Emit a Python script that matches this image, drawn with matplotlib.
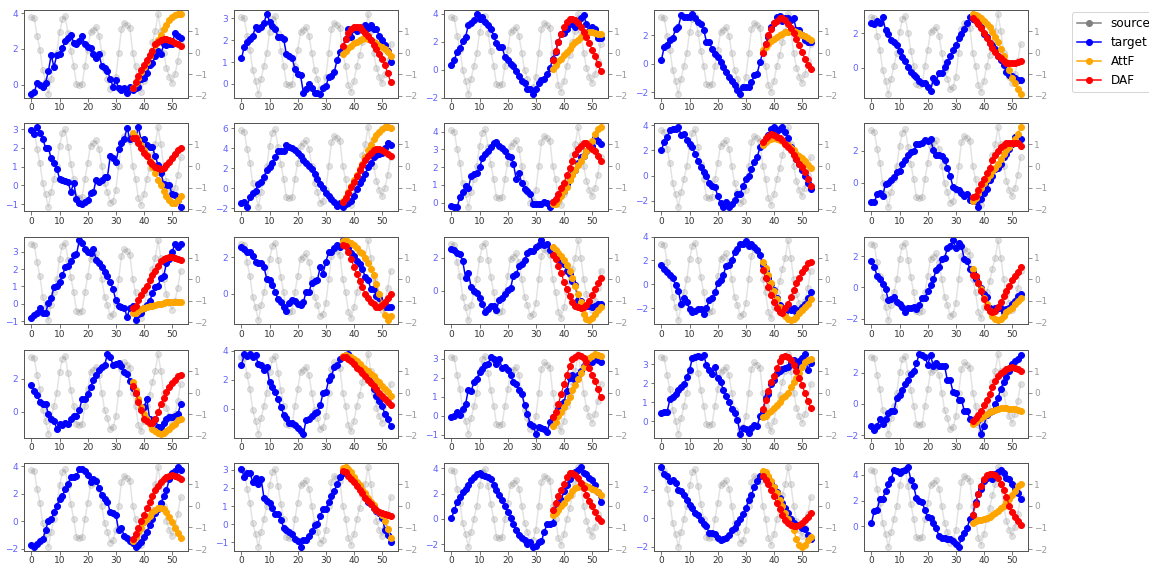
import numpy as np
import matplotlib
matplotlib.use("Agg")
import matplotlib.pyplot as plt
from matplotlib.lines import Line2D

# ---------------- data ----------------
source = [1.65,1.6,0.8,0.15,-0.8,-1.3,-1.9,-1.2,-0.6,0.0, 0.95,1.55,1.7,0.9,0.1,-0.6,-1.45,-1.5,-1.45,-0.6,
          0.15,0.95,1.05,1.2,0.8,0.0,-0.8,-1.2,-1.7,-1.6, -1.1,0.0,1.1,1.4,1.3,1.15,0.0,-0.6,-1.5,-1.8,
          -1.3,-0.6,-0.1,0.5,1.0,1.8,1.0,0.0,-0.7,-1.1, -1.4,-1.0,-0.4,0.4]

target_00 = [-0.5,-0.4,0.1,0.0,-0.1,0.1,0.75,1.65,1.0,1.65, 1.7,2.05,2.45,2.6,2.8,2.35,2.3,2.45,2.7,2.25,
             2.1,2.05,1.7,1.5,1.7,1.05,0.95,0.75,0.35,-0.1, 0.25,-0.2,-0.3,-0.2,-0.45,-0.1,-0.3,-0.2,-0.1,0.3,
             0.4,0.65,1.1,1.2,1.6,1.9,1.7,2.25,2.2,2.3, 2.25,2.9,2.7,2.6]
attf_00 = [-0.2,0.1,0.4,0.7,1.0,1.3,1.6,1.9,2.2,2.5,2.8,3.1,3.35,3.6,3.8,3.9,3.95,3.95]
daf_00 = [-0.2,0.15,0.5,0.8,1.1,1.4,1.65,1.9,2.3,2.4,2.5,2.55,2.55,2.5,2.45,2.35,2.25,2.15]

target_01 = [1.17,1.7,1.9,2.05,2.2,2.6,2.5,2.6,2.8,3.2, 2.85,2.65,2.5,2.15,2.15,2.05,1.35,1.3,1.17,0.7,
             0.45,0.4,-0.4,-0.25,0.0,-0.2,-0.4,-0.4,-0.45,-0.2, -0.1,0.3,0.35,0.55,1.1,1.45,1.6,2.05,2.5,2.15,
             2.5,2.4,2.5,2.5,2.7,2.55,2.7,2.5,2.5,2.2, 2.0,1.8,1.5,1.0]
attf_01 = [1.35,1.5,1.65,1.75,1.85,1.9,2.0,2.05,2.08,2.05,2.0,1.9,1.85,1.75,1.7,1.6,1.45,1.3]
daf_01 = [1.75,2.05,2.35,2.5,2.6,2.6,2.6,2.45,2.35,2.2,2.0,1.8,1.6,1.35,1.15,0.85,0.5,0.1]

target_02 = [0.35,0.7,1.3,1.55,2.05,2.35,3.2,3.35,3.6,4.0, 3.65,3.75,3.45,3.2,2.95,2.45,1.9,1.65,1.6,0.95,
             0.7,0.45,0.25,-0.1,-0.45,-0.8,-0.95,-1.35,-1.35,-1.7, -1.35,-0.95,-0.7,-0.65,-0.3,0.1,0.8,1.3,2.0,2.6,
             2.65,2.95,3.3,3.5,3.05,3.5,3.7,3.9,3.3,2.75, 3.1,2.9,2.25,2.3]
attf_02 = [0.05,0.35,0.6,0.8,1.05,1.3,1.5,1.75,2.0,2.15,2.35,2.5,2.65,2.7,2.7,2.65,2.6,2.55]
daf_02 = [0.7,1.35,2.0,2.6,3.05,3.4,3.65,3.65,3.55,3.35,3.05,2.7,2.35,1.9,1.45,1.0,0.45,-0.1]

target_03 = [0.3,1.2,1.3,1.65,1.8,2.45,2.6,3.4,3.3,3.3, 3.3,3.5,3.2,2.95,2.8,2.4,1.55,1.55,1.05,0.7,
             0.45,0.1,-0.25,-0.6,-0.95,-1.2,-1.5,-1.85,-2.1,-1.65, -1.6,-1.6,-1.3,-0.8,-0.7,0.1,0.8,1.4,1.9,2.6,
             2.85,3.3,3.35,3.0,3.2,3.2,3.05,3.2,2.35,2.35, 2.0,1.65,1.55,1.55]
attf_03 = [0.95,1.2,1.4,1.6,1.75,1.9,2.0,2.1,2.2,2.25,2.3,2.3,2.25,2.15,2.05,1.95,1.8,1.65]
daf_03 = [0.75,1.4,2.0,2.45,2.85,3.0,3.2,3.2,3.05,2.8,2.55,2.15,1.75,1.3,0.8,0.35,-0.1,-0.35]

target_04 = [2.6,2.5,2.7,2.6,2.9,2.15,1.95,1.6,1.5,1.3, 0.95,0.6,0.4,0.05,-0.25,-0.4,-0.55,-0.75,-0.85,-0.9,
             -1.1,-1.35,-0.6,-0.8,-0.3,-0.3,0.05,0.35,0.7,1.0, 1.3,1.7,1.95,2.25,2.6,2.9,2.8,2.8,2.6,2.35,
             1.95,1.75,1.4,1.3,1.1,0.7,0.45,0.15,-0.25,-0.4, -0.5,-0.6,-0.7,-0.7]
attf_04 = [3.1,3.05,3.0,2.85,2.7,2.55,2.35,2.05,1.75,1.5,1.1,0.7,0.35,-0.15,-0.6,-0.9,-1.2,-1.5]
daf_04 = [2.85,2.7,2.55,2.3,2.0,1.7,1.4,1.15,0.9,0.7,0.55,0.4,0.3,0.25,0.25,0.25,0.35,0.4]

target_10 = [2.95,2.75,3.1,2.8,2.5,2.0,2.0,1.45,1.2,0.9, 0.35,0.3,0.25,0.2,-0.35,0.15,-0.7,-0.95,-1.0,-0.9,
             -0.75,-0.4,-0.35,0.3,0.2,0.3,0.45,0.45,1.55,1.45, 1.25,1.95,2.25,2.5,3.05,2.45,2.75,2.5,3.1,2.4,
             2.45,2.15,2.05,2.05,1.55,1.1,0.65,0.1,0.05,0.0, -0.45,-0.5,-0.8,-1.15]
attf_10 = [2.8,2.6,2.4,2.15,1.9,1.6,1.3,1.0,0.65,0.3,0.0,-0.3,-0.55,-0.8,-0.95,-0.95,-0.8,-0.55]
daf_10 = [2.55,2.55,2.25,2.0,1.75,1.55,1.25,1.15,1.0,0.95,0.9,0.95,1.1,1.25,1.45,1.7,1.9,2.0]

target_11 = [-1.5,-1.4,-1.9,-0.85,-0.5,-0.25,0.45,0.6,1.1,1.85, 2.1,2.5,3.1,3.75,3.75,3.75,4.3,4.15,4.0,3.8,
             3.55,3.2,2.8,2.5,2.2,1.95,1.45,0.95,0.45,0.05, -0.5,-0.75,-1.1,-1.4,-1.75,-1.5,-1.9,-1.6,-1.5,-1.25,
             -0.75,-0.05,0.5,0.95,1.45,2.1,2.5,3.1,3.3,3.4, 3.55,4.0,4.55,4.3]
attf_11 = [-1.3,-0.9,-0.4,0.25,0.8,1.3,1.95,2.45,3.1,3.8,4.3,4.9,5.3,5.65,5.9,6.1,6.1,6.0]
daf_11 = [-1.4,-1.0,-0.5,0.1,0.6,1.2,1.8,2.3,2.8,3.2,3.55,3.8,3.9,3.9,3.8,3.65,3.45,3.2]

target_12 = [-0.2,-0.25,-0.25,0.3,0.6,0.95,0.85,1.5,1.6,1.65, 2.0,2.5,2.75,2.9,3.15,3.35,3.4,3.2,3.1,2.9,
             2.65,2.6,2.2,1.35,1.65,1.1,0.75,0.65,0.5,-0.05, -0.05,-0.1,-0.05,0.05,0.0,-0.25,0.05,0.15,0.3,0.5,
             0.65,1.05,1.35,1.6,1.85,2.25,2.55,2.65,2.9,3.15, 3.2,3.65,3.5,3.3]
attf_12 = [-0.1,-0.05,0.15,0.4,0.65,0.9,1.25,1.55,1.85,2.1,2.35,2.65,2.9,3.2,3.5,3.85,4.15,4.25]
daf_12 = [0.05,0.2,0.5,0.8,1.1,1.55,1.95,2.35,2.75,3.05,3.2,3.35,3.35,3.2,3.05,2.9,2.65,2.35]

target_13 = [2.05,2.7,3.05,3.6,3.7,3.7,3.85,3.25,3.3,2.8, 2.55,2.25,1.7,1.2,0.7,0.25,0.0,-0.55,-0.8,-0.9,
             -1.6,-2.2,-2.5,-2.1,-2.5,-2.25,-1.95,-1.45,-1.45,-0.8, -0.25,0.0,0.55,1.05,1.45,2.25,2.5,2.9,3.25,3.7,
             3.85,3.55,3.7,3.85,3.45,3.0,2.25,1.7,1.3,0.9, 0.45,0.0,-0.6,-1.05]
attf_13 = [2.45,2.65,2.85,2.9,3.0,2.9,2.85,2.75,2.55,2.4,2.2,2.0,1.75,1.6,1.4,1.15,0.85,0.6]
daf_13 = [2.7,3.0,3.15,3.3,3.25,3.1,3.0,2.8,2.5,2.25,2.0,1.65,1.3,0.95,0.65,0.25,-0.25,-0.8]

target_14 = [-1.2,-1.2,-0.7,-0.65,-0.8,-0.05,0.0,0.15,0.35,0.65, 0.75,1.15,1.4,1.7,1.9,1.95,2.4,2.4,2.5,2.65,
             2.6,2.7,2.05,1.75,1.7,1.65,1.4,0.95,0.4,-0.25, -0.35,-0.45,-0.6,-0.8,-0.7,-1.05,-1.1,-1.15,-1.5,-1.0,
             -0.65,-0.35,0.15,0.45,0.85,0.95,1.2,1.6,1.8,2.1, 2.4,2.85,2.45,2.7]
attf_14 = [-1.15,-0.95,-0.65,-0.3,0.0,0.25,0.5,0.75,0.95,1.2,1.5,1.8,2.05,2.25,2.45,2.7,3.05,3.45]
daf_14 = [-0.9,-0.8,-0.45,-0.1,0.25,0.6,0.95,1.4,1.7,2.0,2.2,2.35,2.45,2.5,2.5,2.5,2.45,2.3]

target_20 = [-0.8,-0.65,-0.5,-0.25,-0.5,-0.55,0.05,0.35,0.95,1.0, 1.25,1.65,2.1,2.2,2.45,2.8,2.85,3.65,3.5,3.15,
             3.0,2.95,3.15,2.55,2.35,2.1,1.85,1.6,1.25,0.85, 0.2,-0.1,-0.2,-0.25,-0.75,-0.25,-0.15,-0.95,-0.6,-0.5,
             -0.25,-0.05,0.15,0.6,0.95,1.05,1.5,1.6,2.35,2.6, 3.0,3.45,3.3,3.45]
attf_20 = [-0.5,-0.5,-0.4,-0.3,-0.25,-0.2,-0.15,-0.1,-0.05,0.0,0.0,0.05,0.08,0.1,0.12,0.13,0.13,0.12]
daf_20 = [-0.25,-0.1,0.2,0.5,0.8,1.05,1.35,1.65,1.9,2.2,2.45,2.6,2.65,2.7,2.7,2.65,2.6,2.5]

target_21 = [2.55,2.45,2.3,2.25,2.05,1.75,1.7,1.65,1.45,0.8, 0.75,0.5,0.1,-0.3,-0.45,-0.7,-0.95,-0.5,-0.35,-0.4,
             -0.55,-0.6,-0.45,0.1,0.1,0.6,0.7,0.75,1.45,1.1, 1.75,2.25,2.25,2.5,2.65,2.55,2.9,2.85,2.5,2.2,
             2.05,1.8,1.6,1.35,0.9,0.75,0.25,0.25,-0.1,-0.25, -0.55,-0.7,-0.7,-0.75]
attf_21 = [2.85,2.9,2.8,2.75,2.65,2.5,2.3,2.2,1.95,1.65,1.35,1.0,0.55,0.0,-0.55,-1.15,-1.45,-1.2]
daf_21 = [2.65,2.6,2.25,1.9,1.45,1.05,0.7,0.35,0.0,-0.25,-0.45,-0.55,-0.7,-0.7,-0.6,-0.45,-0.25,0.0]

target_22 = [2.55,2.45,2.3,2.2,1.8,0.8,1.1,0.2,0.0,-0.15, -0.45,-0.8,-1.3,-1.1,-0.9,-0.95,-1.15,-0.55,-0.45,-0.2,
             0.05,0.15,0.9,1.0,1.5,1.65,1.85,2.3,2.4,2.4, 2.65,2.8,3.05,2.8,2.85,2.45,2.2,2.35,2.05,1.75,
             1.6,1.2,1.0,0.6,0.35,-0.55,-0.6,-0.9,-0.95,-0.95, -1.0,-0.9,-0.8,-0.8]
attf_22 = [2.65,2.45,2.3,2.1,1.85,1.55,1.2,0.8,0.3,-0.2,-0.7,-1.4,-1.75,-1.8,-1.65,-1.4,-1.2,-1.0]
daf_22 = [2.15,1.9,1.5,1.05,0.55,0.1,-0.35,-0.7,-0.9,-1.0,-1.05,-1.0,-0.85,-0.6,-0.25,0.1,0.45,0.8]

target_23 = [1.65,1.3,1.05,0.8,0.55,-0.05,-0.55,-1.65,-1.15,-1.5, -2.05,-2.3,-2.2,-2.05,-2.05,-2.5,-2.0,-1.3,-1.15,-0.65,
             0.1,0.35,0.8,1.55,1.65,2.0,2.7,2.95,3.4,3.4, 3.6,3.2,3.4,3.1,2.85,2.45,1.65,1.2,0.5,0.0,
             -0.45,-1.15,-1.7,-2.0,-2.3,-1.85,-2.15,-2.0,-2.3,-2.15, -1.85,-1.6,-1.15,-0.65]
attf_23 = [1.85,1.4,0.8,0.15,-0.55,-1.2,-1.85,-2.3,-2.6,-2.85,-3.0,-2.9,-2.7,-2.4,-2.15,-1.85,-1.6,-1.2]
daf_23 = [1.2,0.5,-0.2,-0.9,-1.5,-1.95,-2.3,-2.35,-2.0,-1.6,-1.05,-0.45,0.1,0.55,1.05,1.4,1.75,1.9]

target_24 = [1.7,1.3,0.75,0.55,0.2,-0.1,-0.8,-0.75,-0.6,-0.9, -1.05,-1.25,-1.6,-1.3,-1.3,-1.25,-1.4,-1.1,-0.65,-0.65,
             -0.25,0.15,0.55,1.1,1.3,1.8,1.9,2.5,2.65,3.0, 2.55,2.85,2.65,1.8,1.7,1.15,1.0,0.55,0.3,-0.05,
             -0.45,-0.6,-1.3,-1.55,-1.3,-1.3,-1.3,-1.6,-1.4,-1.3, -1.05,-0.85,-0.55,-0.4]
attf_24 = [1.15,0.75,0.3,-0.1,-0.65,-1.05,-1.5,-1.8,-2.0,-2.1,-2.0,-1.8,-1.6,-1.45,-1.3,-1.05,-0.85,-0.65]
daf_24 = [0.8,0.7,0.3,-0.2,-0.75,-1.25,-1.5,-1.6,-1.5,-1.25,-0.9,-0.55,-0.2,0.1,0.45,0.75,1.0,1.3]

target_30 = [1.65,1.25,1.05,0.6,0.45,0.5,-0.1,-0.4,-0.55,-1.0, -0.75,-0.8,-0.65,-0.75,-0.4,-0.25,-0.25,0.1,0.8,0.75,
             1.1,1.5,1.95,2.2,2.5,2.7,2.8,3.5,3.3,2.85, 2.9,2.95,2.75,2.4,2.3,1.85,1.45,1.15,0.7,0.2,
             0.3,0.75,-0.4,-0.65,-0.45,-0.9,-0.9,-0.65,-0.45,-0.3, -0.3,-0.25,-0.15,0.45]
attf_30 = [1.8,1.3,0.8,0.3,-0.1,-0.45,-0.75,-1.0,-1.15,-1.25,-1.3,-1.25,-1.15,-1.0,-0.85,-0.7,-0.5,-0.4]
daf_30 = [1.55,1.15,0.6,0.1,-0.45,-0.55,-0.65,-0.65,-0.4,0.0,0.45,0.85,1.2,1.5,1.75,1.95,2.15,2.25]

target_31 = [3.05,3.75,3.65,3.8,3.6,3.7,3.1,3.05,2.65,2.9, 1.85,1.5,1.15,0.65,0.15,-0.4,-0.65,-0.95,-0.95,-1.1,
             -1.3,-1.55,-1.7,-0.75,-0.7,-0.5,-0.25,-0.2,0.25,1.1, 1.15,2.0,2.25,2.9,3.0,3.45,3.55,3.7,3.8,3.45,
             3.3,3.15,2.8,2.7,2.35,2.1,1.85,1.35,0.9,0.55, 0.2,-0.35,-0.7,-1.2]
attf_31 = [3.65,3.7,3.65,3.55,3.45,3.3,3.1,2.9,2.75,2.6,2.4,2.25,2.0,1.85,1.6,1.4,1.15,0.9]
daf_31 = [3.55,3.55,3.45,3.3,3.1,2.85,2.7,2.45,2.25,2.0,1.8,1.55,1.35,1.1,0.9,0.65,0.45,0.3]

target_32 = [-0.1,0.0,0.2,0.05,0.35,0.6,1.35,1.3,1.75,1.9, 2.3,2.45,2.65,2.7,3.1,3.0,2.7,2.95,2.5,2.55,
             2.4,2.15,1.75,1.65,1.35,1.15,0.55,0.1,-0.45,-0.55, -0.95,-0.6,-0.65,-0.7,-0.85,-0.35,-0.1,0.0,0.35,0.6,
             0.7,1.3,2.0,2.15,1.85,2.15,2.35,2.6,2.85,2.8, 2.8,2.95,2.9,2.8]
attf_32 = [-0.55,-0.35,-0.05,0.2,0.45,0.7,1.0,1.35,1.6,1.9,2.25,2.55,2.85,3.05,3.15,3.25,3.2,3.15]
daf_32 = [-0.1,0.2,0.6,1.15,1.65,2.15,2.6,2.95,3.1,3.2,3.15,3.05,2.8,2.5,2.15,1.8,1.4,0.95]

target_33 = [0.45,0.5,0.5,1.15,1.3,1.45,1.65,1.8,1.95,2.35, 2.7,3.35,3.4,3.45,3.4,3.5,2.95,2.7,2.5,2.85,
             2.25,2.05,1.65,1.35,1.0,0.65,0.45,0.05,-0.65,-0.35, -0.4,-0.6,-0.35,-0.2,-0.25,0.25,0.5,1.2,1.45,1.95,
             2.15,2.55,2.65,2.75,2.8,2.85,3.05,3.2,2.9,3.15, 3.35,3.55,2.7,3.05]
attf_33 = [0.2,0.3,0.45,0.55,0.7,0.85,1.0,1.2,1.35,1.5,1.8,2.05,2.3,2.55,2.85,3.1,3.2,3.25]
daf_33 = [0.65,1.1,1.6,2.05,2.4,2.8,3.15,3.4,3.45,3.4,3.2,2.95,2.65,2.3,1.9,1.5,1.05,0.7]

target_34 = [-1.4,-1.7,-1.4,-0.95,-1.3,-1.0,-0.6,-0.45,-0.45,0.4, 0.55,0.9,1.3,1.55,1.9,2.1,2.6,3.2,3.15,3.0,
             2.5,3.1,2.4,2.6,2.45,2.4,2.4,1.5,1.5,0.75, 0.7,0.25,0.25,-0.45,-0.45,-0.95,-1.05,-1.0,-1.05,-1.9,
             -1.4,-0.7,-0.55,-0.45,0.0,0.4,0.95,1.4,1.7,2.1, 2.55,2.75,2.85,3.1]
attf_34 = [-1.3,-1.15,-1.0,-0.9,-0.75,-0.65,-0.55,-0.45,-0.4,-0.3,-0.28,-0.28,-0.28,-0.3,-0.33,-0.35,-0.4,-0.45]
daf_34 = [-1.1,-0.9,-0.7,-0.45,-0.1,0.25,0.65,1.05,1.45,1.75,1.95,2.1,2.25,2.3,2.35,2.3,2.25,2.1]

target_40 = [-1.75,-1.85,-1.65,-1.45,-1.3,-0.65,0.05,0.15,0.65,1.15, 1.6,1.85,2.35,2.7,3.25,3.25,3.3,3.8,3.8,3.65,
             3.4,2.85,3.05,2.95,2.45,1.9,1.6,1.4,0.7,0.6, 0.45,-0.65,-0.5,-1.05,-1.2,-1.4,-1.55,-1.85,-1.75,-1.5,
             -1.15,-0.8,-0.25,0.2,0.6,0.9,1.35,1.85,2.3,3.05, 3.55,3.65,3.95,3.7]
attf_40 = [-1.4,-1.15,-0.8,-0.45,-0.05,0.15,0.4,0.65,0.85,1.0,1.0,0.9,0.65,0.3,-0.05,-0.45,-0.85,-1.2]
daf_40 = [-1.3,-0.9,-0.45,0.05,0.5,1.0,1.4,1.85,2.3,2.6,2.85,3.1,3.25,3.3,3.35,3.3,3.25,3.1]

target_41 = [3.05,2.6,2.8,2.8,2.35,2.55,2.2,2.5,1.45,1.25, 1.15,0.9,0.55,0.55,0.25,-0.2,-0.3,-0.45,-0.55,-0.8,
             -0.95,-1.25,-0.85,-0.85,-0.65,-0.35,-0.05,0.0,0.45,0.85, 0.85,1.2,1.55,1.85,2.2,2.6,2.8,2.95,2.8,2.55,
             2.45,2.25,2.1,1.85,1.55,1.2,1.1,0.9,0.75,0.6, 0.35,-0.3,-0.6,-1.0]
attf_41 = [3.1,3.15,3.05,2.85,2.6,2.35,2.15,1.9,1.7,1.45,1.2,1.05,0.8,0.65,0.5,0.2,-0.25,-0.75]
daf_41 = [2.95,2.85,2.65,2.5,2.3,2.1,1.9,1.7,1.45,1.25,1.1,0.9,0.8,0.65,0.6,0.55,0.5,0.45]

target_42 = [0.05,0.7,1.35,1.75,2.1,2.35,2.7,3.05,3.35,3.55, 3.65,3.45,3.4,3.3,3.15,2.7,2.3,1.9,1.5,1.0,
             0.55,0.1,-0.4,-0.9,-1.3,-1.5,-1.65,-2.0,-1.85,-2.2, -2.1,-1.85,-1.75,-1.0,-0.4,-0.4,-0.3,0.65,1.0,1.5,
             2.2,2.7,3.15,3.45,3.7,3.85,4.1,3.6,3.55,3.2, 3.1,2.7,2.1,1.35]
attf_42 = [0.3,0.5,0.7,1.0,1.3,1.65,1.9,2.2,2.45,2.55,2.7,2.7,2.6,2.5,2.35,2.25,2.1,1.9]
daf_42 = [0.7,1.3,1.8,2.3,2.8,3.3,3.6,3.65,3.45,3.2,2.85,2.45,1.9,1.4,1.0,0.55,0.1,-0.15]

target_43 = [3.6,3.1,3.0,2.65,2.7,2.45,2.0,1.95,1.65,1.3, 0.95,0.75,0.35,0.25,-0.1,-0.4,-0.55,-1.05,-1.05,-1.1,
             -1.4,-1.55,-1.45,-1.35,-1.15,-0.85,-0.65,-0.35,-0.05,0.3, 0.7,1.3,1.65,2.2,2.65,3.0,3.2,3.1,2.85,2.45,
             2.2,1.85,1.4,1.05,0.75,0.4,-0.05,-0.35,-0.45,-0.45, -0.65,-0.75,-1.15,-1.45]
attf_43 = [3.35,3.25,2.95,2.65,2.2,1.8,1.3,0.85,0.4,-0.05,-0.45,-0.85,-1.45,-1.85,-2.0,-1.85,-1.55,-1.3]
daf_43 = [2.95,2.7,2.4,2.0,1.55,1.1,0.65,0.25,-0.1,-0.35,-0.45,-0.55,-0.55,-0.45,-0.35,-0.1,0.1,0.4]

target_44 = [0.25,1.2,1.3,2.1,2.15,2.75,3.25,3.65,4.4,4.3, 4.1,4.3,4.35,4.6,3.6,3.1,2.2,2.0,1.9,1.25,
             0.7,0.65,0.25,-0.15,-0.75,-0.9,-0.9,-1.0,-1.0,-1.15, -1.35,-1.6,-0.9,-0.5,-0.15,0.6,0.9,1.9,2.5,2.9,
             3.55,3.75,4.0,3.7,4.05,4.25,4.35,4.1,3.75,3.65, 3.3,2.9,2.6,2.1]
attf_44 = [0.25,0.4,0.45,0.5,0.6,0.65,0.75,0.9,1.0,1.2,1.4,1.6,1.85,2.1,2.4,2.75,3.1,3.3]
daf_44 = [0.9,1.7,2.5,3.1,3.65,4.0,4.05,4.05,4.0,3.75,3.3,2.8,2.25,1.6,1.1,0.75,0.4,0.1]

# left-axis tick labels
yticks_row0 = [[0, 2, 4], [0, 1, 2, 3], [-2, 0, 2, 4], [-2, 0, 2], [0, 2]]
yticks_row1 = [[-1, 0, 1, 2, 3], [-2, 0, 2, 4, 6], [0, 1, 2, 3, 4], [-2, 0, 2, 4], [0, 2]]
yticks_row2 = [[-1, 0, 1, 2, 3], [0, 2], [0, 2], [-2, 0, 2, 4], [-2, 0, 2]]
yticks_row3 = [[0, 2], [0, 2, 4], [-1, 0, 1, 2, 3], [0, 1, 2, 3], [-2, 0, 2]]
yticks_row4 = [[-2, 0, 2, 4], [-1, 0, 1, 2, 3], [-2, 0, 2, 4], [-2, 0, 2], [0, 2, 4]]
right_yticks = [-2, -1, 0, 1]
xticks = [0, 10, 20, 30, 40, 50]

forecast_start = 36
legend_labels = ["source", "target", "AttF", "DAF"]

panels = [
    [(target_00, attf_00, daf_00), (target_01, attf_01, daf_01), (target_02, attf_02, daf_02), (target_03, attf_03, daf_03), (target_04, attf_04, daf_04)],
    [(target_10, attf_10, daf_10), (target_11, attf_11, daf_11), (target_12, attf_12, daf_12), (target_13, attf_13, daf_13), (target_14, attf_14, daf_14)],
    [(target_20, attf_20, daf_20), (target_21, attf_21, daf_21), (target_22, attf_22, daf_22), (target_23, attf_23, daf_23), (target_24, attf_24, daf_24)],
    [(target_30, attf_30, daf_30), (target_31, attf_31, daf_31), (target_32, attf_32, daf_32), (target_33, attf_33, daf_33), (target_34, attf_34, daf_34)],
    [(target_40, attf_40, daf_40), (target_41, attf_41, daf_41), (target_42, attf_42, daf_42), (target_43, attf_43, daf_43), (target_44, attf_44, daf_44)],
]
yticks_all = [yticks_row0, yticks_row1, yticks_row2, yticks_row3, yticks_row4]

# ---------------- plot ----------------
DPI = 72
fig = plt.figure(figsize=(1149 / DPI, 567 / DPI), dpi=DPI)
plt.rcParams['font.size'] = 9

gs = fig.add_gridspec(5, 5, left=0.0209, right=0.8947, top=0.9824, bottom=0.0285,
                      wspace=0.2805, hspace=0.29)

left_lbl = (0.38, 0.38, 1.0)
right_lbl = '#9a9a9a'
spine_col = '#555555'

for r in range(5):
    for c in range(5):
        tgt, att, daf = panels[r][c]
        ax = fig.add_subplot(gs[r, c])
        ax2 = ax.twinx()
        ax.set_zorder(ax2.get_zorder() + 1)
        ax.patch.set_visible(False)

        xs = np.arange(len(source))
        ax2.plot(xs, source, color='grey', alpha=0.22, marker='o', markersize=6, lw=1.5)

        xt = np.arange(len(tgt))
        ax.plot(xt, tgt, color='blue', marker='o', markersize=6, lw=1.5)
        xa = np.arange(forecast_start, forecast_start + len(att))
        ax.plot(xa, att, color='orange', marker='o', markersize=6, lw=1.2)
        xd = np.arange(forecast_start, forecast_start + len(daf))
        ax.plot(xd, daf, color='red', marker='o', markersize=6, lw=1.2)

        ax.set_xticks(xticks)
        ax.set_yticks(yticks_all[r][c])
        ax.tick_params(axis='y', labelcolor=left_lbl, colors=spine_col, labelsize=9,
                       length=3.5, pad=2.5)
        ax.tick_params(axis='x', labelcolor='#333333', colors=spine_col, labelsize=9,
                       length=3.5, pad=2)
        for lab in ax.get_yticklabels():
            lab.set_color(left_lbl)
        ax2.set_yticks(right_yticks)
        ax2.tick_params(axis='y', labelcolor=right_lbl, colors='#777777', labelsize=9,
                        length=3.5, pad=2.5)
        for sp in list(ax.spines.values()) + list(ax2.spines.values()):
            sp.set_color(spine_col)
            sp.set_linewidth(0.9)

handles = [Line2D([], [], color='grey', marker='o', markersize=6),
           Line2D([], [], color='blue', marker='o', markersize=6),
           Line2D([], [], color='orange', marker='o', markersize=6),
           Line2D([], [], color='red', marker='o', markersize=6)]
fig.legend(handles, legend_labels, loc='upper left', bbox_to_anchor=(0.933, 0.978),
           fontsize=12, frameon=True, borderaxespad=0.0)

fig.savefig("out.png", dpi=DPI)
